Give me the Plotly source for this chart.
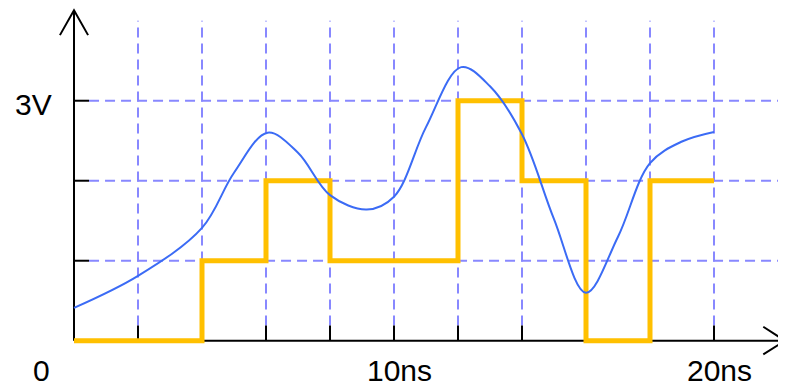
import plotly.graph_objects as go

# ---- data ----
step_t = [0, 4, 6, 8, 12, 14, 16, 18, 20]
step_v = [0, 1, 2, 1, 3, 2, 0, 2, 2]

analog_t = [0, 2, 4, 5, 6.05, 7, 8, 9.15, 10, 11, 12.1, 13, 14, 15, 16, 17, 18, 19, 20]
analog_v = [0.41, 0.81, 1.41, 2.10, 2.60, 2.35, 1.82, 1.64, 1.80, 2.67, 3.42, 3.18,
            2.58, 1.52, 0.60, 1.30, 2.22, 2.49, 2.61]

grid_x = [2, 4, 6, 8, 10, 12, 14, 16, 18, 20]
grid_y = [1, 2, 3]
x_labels = [(0, "0"), (10, "10ns"), (20, "20ns")]
y_labels = [(3, "3V")]

GRID = "#8888FF"
FONT = dict(family="Liberation Sans, Arial, sans-serif", size=30, color="black")

fig = go.Figure()

fig.add_trace(go.Scatter(x=step_t, y=step_v, mode="lines",
                         line=dict(color="#FFC000", width=5, shape="hv"),
                         hoverinfo="skip", showlegend=False))
fig.add_trace(go.Scatter(x=analog_t, y=analog_v, mode="lines",
                         line=dict(color="#3B6BF5", width=2, shape="spline", smoothing=1),
                         hoverinfo="skip", showlegend=False))

shapes = []
# grid
for gx in grid_x:
    shapes.append(dict(type="line", xref="x", yref="y", x0=gx, x1=gx, y0=0.19, y1=4.0,
                       line=dict(color=GRID, width=2, dash="10px,6px"), layer="below"))
for gy in grid_y:
    shapes.append(dict(type="line", xref="x", yref="y", x0=0.47, x1=22.03, y0=gy, y1=gy,
                       line=dict(color=GRID, width=2, dash="10px,6px"), layer="below"))
# ticks
for gx in grid_x:
    shapes.append(dict(type="line", xref="x", yref="y", x0=gx, x1=gx, y0=0, y1=0.19,
                       line=dict(color="black", width=2), layer="below"))
for gy in grid_y:
    shapes.append(dict(type="line", xref="x", yref="y", x0=0, x1=0.47, y0=gy, y1=gy,
                       line=dict(color="black", width=2), layer="below"))
# axes with open arrowheads
shapes.append(dict(type="line", xref="x", yref="y", x0=0, x1=22.22, y0=0, y1=0,
                   line=dict(color="black", width=2), layer="below"))
shapes.append(dict(type="line", xref="x", yref="y", x0=0, x1=0, y0=0, y1=4.13,
                   line=dict(color="black", width=2), layer="below"))
shapes.append(dict(type="path", xref="x", yref="y",
                   path="M 21.54,0.175 L 22.22,0 L 21.54,-0.17",
                   line=dict(color="black", width=2), layer="below"))
shapes.append(dict(type="path", xref="x", yref="y",
                   path="M -0.44,3.82 L 0,4.13 L 0.44,3.82",
                   line=dict(color="black", width=2), layer="below"))

annotations = []
for t, txt in x_labels:
    annotations.append(dict(x=t, y=0, xref="x", yref="y", text=txt, showarrow=False,
                            font=FONT, xanchor="center", yanchor="middle",
                            xshift=(-33 if t == 0 else 5), yshift=-30))
for v, txt in y_labels:
    annotations.append(dict(x=0, y=v, xref="x", yref="y", text=txt, showarrow=False,
                            font=FONT, xanchor="right", yanchor="middle",
                            xshift=-20, yshift=-4))

# the page body adds an 8px offset; the figure covers the rest of the window
fig.update_layout(
    width=778, height=376,
    margin=dict(l=0, r=0, t=0, b=0),
    paper_bgcolor="white", plot_bgcolor="white",
    xaxis=dict(range=[-2.0625, 22.25], visible=False, fixedrange=True),
    yaxis=dict(range=[-0.541, 4.159], visible=False, fixedrange=True),
    shapes=shapes, annotations=annotations,
)

fig.write_html("out.html")
